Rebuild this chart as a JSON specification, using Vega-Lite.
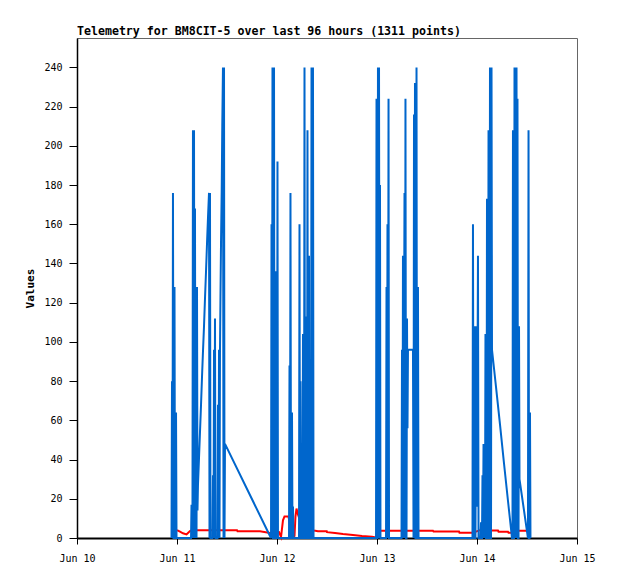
{
  "$schema": "https://vega.github.io/schema/vega-lite/v6.json",
  "width": 500,
  "height": 500,
  "autosize": {"type": "none"},
  "padding": {"left": 77, "top": 38, "right": 41, "bottom": 41},
  "background": "white",
  "title": {
    "text": "Telemetry for BM8CIT-5 over last 96 hours (1311 points)",
    "anchor": "start",
    "frame": "group",
    "font": "DejaVu Sans Mono",
    "fontSize": 11.6,
    "fontWeight": "bold",
    "color": "black",
    "offset": 0
  },
  "config": {
    "view": {"stroke": "#666666", "strokeWidth": 1},
    "axis": {
      "domainColor": "black",
      "tickColor": "black",
      "labelColor": "black",
      "labelFont": "DejaVu Sans Mono",
      "labelFontSize": 10,
      "titleFont": "DejaVu Sans Mono",
      "titleFontSize": 11,
      "titleFontWeight": "bold",
      "titleColor": "black",
      "grid": false,
      "zindex": 1
    },
    "axisX": {"domainWidth": 2, "tickSize": 6, "labelPadding": 9, "labelFlush": false, "labelOverlap": false},
    "axisY": {"domainWidth": 1.5, "tickSize": 8, "labelPadding": 7, "titlePadding": 8}
  },
  "datasets": {
    "red": [
      {"time": "2024-06-11T00:00", "value": 4},
      {"time": "2024-06-11T00:43", "value": 3.2},
      {"time": "2024-06-11T01:26", "value": 2.4},
      {"time": "2024-06-11T02:17", "value": 1.8},
      {"time": "2024-06-11T02:38", "value": 2.5},
      {"time": "2024-06-11T03:07", "value": 3.5},
      {"time": "2024-06-11T03:36", "value": 4},
      {"time": "2024-06-11T14:24", "value": 4},
      {"time": "2024-06-11T14:31", "value": 3.5},
      {"time": "2024-06-11T19:55", "value": 3.4},
      {"time": "2024-06-11T22:19", "value": 2.6},
      {"time": "2024-06-12T00:29", "value": 3},
      {"time": "2024-06-12T00:58", "value": 0.5},
      {"time": "2024-06-12T01:26", "value": 9},
      {"time": "2024-06-12T01:48", "value": 11},
      {"time": "2024-06-12T02:46", "value": 11},
      {"time": "2024-06-12T03:07", "value": 6},
      {"time": "2024-06-12T03:50", "value": 0.5},
      {"time": "2024-06-12T04:12", "value": 1},
      {"time": "2024-06-12T04:26", "value": 11},
      {"time": "2024-06-12T04:41", "value": 15},
      {"time": "2024-06-12T05:02", "value": 12},
      {"time": "2024-06-12T05:31", "value": 9},
      {"time": "2024-06-12T06:00", "value": 5},
      {"time": "2024-06-12T08:53", "value": 3.8},
      {"time": "2024-06-12T09:50", "value": 3.5},
      {"time": "2024-06-12T11:56", "value": 3.5},
      {"time": "2024-06-12T12:00", "value": 3},
      {"time": "2024-06-12T13:55", "value": 2.5},
      {"time": "2024-06-12T15:50", "value": 2},
      {"time": "2024-06-12T18:14", "value": 1.5},
      {"time": "2024-06-12T20:24", "value": 1},
      {"time": "2024-06-12T22:48", "value": 0.6},
      {"time": "2024-06-12T23:46", "value": 0.3},
      {"time": "2024-06-13T00:07", "value": 3.7},
      {"time": "2024-06-13T13:26", "value": 3.7},
      {"time": "2024-06-13T13:34", "value": 3.3},
      {"time": "2024-06-13T19:41", "value": 3.3},
      {"time": "2024-06-13T19:48", "value": 2.7},
      {"time": "2024-06-13T23:02", "value": 2.7},
      {"time": "2024-06-14T00:43", "value": 4},
      {"time": "2024-06-14T02:38", "value": 4},
      {"time": "2024-06-14T02:46", "value": 3.8},
      {"time": "2024-06-14T05:02", "value": 3.8},
      {"time": "2024-06-14T05:10", "value": 3.2},
      {"time": "2024-06-14T07:26", "value": 3.2},
      {"time": "2024-06-14T07:34", "value": 2.7},
      {"time": "2024-06-14T08:38", "value": 2.7},
      {"time": "2024-06-14T09:50", "value": 3.7},
      {"time": "2024-06-14T12:00", "value": 3.7}
    ],
    "blue": [
      {"time": "2024-06-10T22:41", "value": 0},
      {"time": "2024-06-10T22:48", "value": 80},
      {"time": "2024-06-10T22:55", "value": 0},
      {"time": "2024-06-10T23:02", "value": 176},
      {"time": "2024-06-10T23:10", "value": 0},
      {"time": "2024-06-10T23:17", "value": 0},
      {"time": "2024-06-10T23:24", "value": 128},
      {"time": "2024-06-10T23:31", "value": 0},
      {"time": "2024-06-10T23:38", "value": 0},
      {"time": "2024-06-10T23:46", "value": 64},
      {"time": "2024-06-10T23:53", "value": 0},
      {"time": "2024-06-11T03:22", "value": 0},
      {"time": "2024-06-11T03:29", "value": 17},
      {"time": "2024-06-11T03:36", "value": 0},
      {"time": "2024-06-11T03:43", "value": 17},
      {"time": "2024-06-11T03:50", "value": 208},
      {"time": "2024-06-11T03:58", "value": 0},
      {"time": "2024-06-11T04:05", "value": 208},
      {"time": "2024-06-11T04:12", "value": 0},
      {"time": "2024-06-11T04:19", "value": 168},
      {"time": "2024-06-11T04:26", "value": 0},
      {"time": "2024-06-11T04:34", "value": 128},
      {"time": "2024-06-11T04:41", "value": 0},
      {"time": "2024-06-11T04:48", "value": 128},
      {"time": "2024-06-11T04:55", "value": 14},
      {"time": "2024-06-11T05:02", "value": 27},
      {"time": "2024-06-11T05:17", "value": 41},
      {"time": "2024-06-11T05:31", "value": 54},
      {"time": "2024-06-11T05:46", "value": 68},
      {"time": "2024-06-11T06:00", "value": 82},
      {"time": "2024-06-11T06:14", "value": 95},
      {"time": "2024-06-11T06:29", "value": 108},
      {"time": "2024-06-11T06:43", "value": 122},
      {"time": "2024-06-11T06:58", "value": 136},
      {"time": "2024-06-11T07:12", "value": 150},
      {"time": "2024-06-11T07:26", "value": 163},
      {"time": "2024-06-11T07:41", "value": 176},
      {"time": "2024-06-11T07:48", "value": 0},
      {"time": "2024-06-11T07:55", "value": 176},
      {"time": "2024-06-11T08:02", "value": 0},
      {"time": "2024-06-11T08:31", "value": 0},
      {"time": "2024-06-11T08:38", "value": 32},
      {"time": "2024-06-11T08:46", "value": 0},
      {"time": "2024-06-11T08:53", "value": 96},
      {"time": "2024-06-11T09:00", "value": 0},
      {"time": "2024-06-11T09:07", "value": 112},
      {"time": "2024-06-11T09:14", "value": 0},
      {"time": "2024-06-11T09:43", "value": 0},
      {"time": "2024-06-11T09:50", "value": 68},
      {"time": "2024-06-11T09:58", "value": 0},
      {"time": "2024-06-11T10:05", "value": 96},
      {"time": "2024-06-11T10:12", "value": 0},
      {"time": "2024-06-11T10:19", "value": 96},
      {"time": "2024-06-11T10:26", "value": 123},
      {"time": "2024-06-11T10:34", "value": 151},
      {"time": "2024-06-11T10:44", "value": 178},
      {"time": "2024-06-11T10:52", "value": 210},
      {"time": "2024-06-11T11:02", "value": 240},
      {"time": "2024-06-11T11:10", "value": 0},
      {"time": "2024-06-11T11:17", "value": 240},
      {"time": "2024-06-11T11:24", "value": 0},
      {"time": "2024-06-11T11:31", "value": 48},
      {"time": "2024-06-11T22:19", "value": 1},
      {"time": "2024-06-11T22:34", "value": 0},
      {"time": "2024-06-11T22:41", "value": 160},
      {"time": "2024-06-11T22:48", "value": 0},
      {"time": "2024-06-11T22:55", "value": 240},
      {"time": "2024-06-11T23:02", "value": 0},
      {"time": "2024-06-11T23:10", "value": 0},
      {"time": "2024-06-11T23:17", "value": 240},
      {"time": "2024-06-11T23:24", "value": 0},
      {"time": "2024-06-11T23:38", "value": 0},
      {"time": "2024-06-11T23:46", "value": 136},
      {"time": "2024-06-11T23:53", "value": 0},
      {"time": "2024-06-12T00:00", "value": 0},
      {"time": "2024-06-12T00:07", "value": 192},
      {"time": "2024-06-12T00:14", "value": 0},
      {"time": "2024-06-12T02:53", "value": 0},
      {"time": "2024-06-12T03:00", "value": 88},
      {"time": "2024-06-12T03:07", "value": 0},
      {"time": "2024-06-12T03:14", "value": 176},
      {"time": "2024-06-12T03:22", "value": 0},
      {"time": "2024-06-12T03:29", "value": 0},
      {"time": "2024-06-12T03:36", "value": 64},
      {"time": "2024-06-12T03:43", "value": 0},
      {"time": "2024-06-12T03:50", "value": 16},
      {"time": "2024-06-12T03:58", "value": 0},
      {"time": "2024-06-12T05:17", "value": 0},
      {"time": "2024-06-12T05:24", "value": 160},
      {"time": "2024-06-12T05:31", "value": 0},
      {"time": "2024-06-12T05:38", "value": 80},
      {"time": "2024-06-12T05:46", "value": 0},
      {"time": "2024-06-12T06:07", "value": 0},
      {"time": "2024-06-12T06:14", "value": 104},
      {"time": "2024-06-12T06:22", "value": 0},
      {"time": "2024-06-12T06:29", "value": 0},
      {"time": "2024-06-12T06:36", "value": 240},
      {"time": "2024-06-12T06:43", "value": 0},
      {"time": "2024-06-12T06:50", "value": 0},
      {"time": "2024-06-12T06:58", "value": 113},
      {"time": "2024-06-12T07:05", "value": 0},
      {"time": "2024-06-12T07:12", "value": 0},
      {"time": "2024-06-12T07:19", "value": 208},
      {"time": "2024-06-12T07:26", "value": 0},
      {"time": "2024-06-12T07:34", "value": 0},
      {"time": "2024-06-12T07:41", "value": 144},
      {"time": "2024-06-12T07:48", "value": 0},
      {"time": "2024-06-12T08:10", "value": 0},
      {"time": "2024-06-12T08:17", "value": 240},
      {"time": "2024-06-12T08:24", "value": 0},
      {"time": "2024-06-12T08:31", "value": 0},
      {"time": "2024-06-12T08:38", "value": 240},
      {"time": "2024-06-12T08:46", "value": 0},
      {"time": "2024-06-12T23:46", "value": 0},
      {"time": "2024-06-12T23:53", "value": 224},
      {"time": "2024-06-13T00:00", "value": 0},
      {"time": "2024-06-13T00:07", "value": 0},
      {"time": "2024-06-13T00:14", "value": 240},
      {"time": "2024-06-13T00:22", "value": 0},
      {"time": "2024-06-13T00:29", "value": 240},
      {"time": "2024-06-13T00:36", "value": 60},
      {"time": "2024-06-13T00:43", "value": 180},
      {"time": "2024-06-13T00:50", "value": 0},
      {"time": "2024-06-13T02:10", "value": 0},
      {"time": "2024-06-13T02:17", "value": 128},
      {"time": "2024-06-13T02:24", "value": 0},
      {"time": "2024-06-13T02:31", "value": 160},
      {"time": "2024-06-13T02:38", "value": 0},
      {"time": "2024-06-13T02:46", "value": 224},
      {"time": "2024-06-13T02:53", "value": 0},
      {"time": "2024-06-13T05:53", "value": 0},
      {"time": "2024-06-13T06:00", "value": 96},
      {"time": "2024-06-13T06:07", "value": 0},
      {"time": "2024-06-13T06:14", "value": 144},
      {"time": "2024-06-13T06:22", "value": 0},
      {"time": "2024-06-13T06:29", "value": 88},
      {"time": "2024-06-13T06:36", "value": 176},
      {"time": "2024-06-13T06:43", "value": 0},
      {"time": "2024-06-13T06:50", "value": 224},
      {"time": "2024-06-13T06:58", "value": 0},
      {"time": "2024-06-13T07:05", "value": 0},
      {"time": "2024-06-13T07:12", "value": 112},
      {"time": "2024-06-13T07:19", "value": 56},
      {"time": "2024-06-13T07:26", "value": 96},
      {"time": "2024-06-13T08:38", "value": 96},
      {"time": "2024-06-13T08:46", "value": 0},
      {"time": "2024-06-13T08:53", "value": 216},
      {"time": "2024-06-13T09:00", "value": 0},
      {"time": "2024-06-13T09:07", "value": 232},
      {"time": "2024-06-13T09:14", "value": 0},
      {"time": "2024-06-13T09:22", "value": 0},
      {"time": "2024-06-13T09:29", "value": 240},
      {"time": "2024-06-13T09:36", "value": 0},
      {"time": "2024-06-13T09:43", "value": 0},
      {"time": "2024-06-13T09:50", "value": 128},
      {"time": "2024-06-13T09:58", "value": 0},
      {"time": "2024-06-13T22:55", "value": 0},
      {"time": "2024-06-13T23:02", "value": 160},
      {"time": "2024-06-13T23:10", "value": 0},
      {"time": "2024-06-13T23:17", "value": 0},
      {"time": "2024-06-13T23:24", "value": 108},
      {"time": "2024-06-13T23:31", "value": 0},
      {"time": "2024-06-13T23:38", "value": 0},
      {"time": "2024-06-13T23:46", "value": 108},
      {"time": "2024-06-14T00:00", "value": 16},
      {"time": "2024-06-14T00:14", "value": 144},
      {"time": "2024-06-14T00:22", "value": 0},
      {"time": "2024-06-14T00:50", "value": 0},
      {"time": "2024-06-14T00:58", "value": 8},
      {"time": "2024-06-14T01:05", "value": 0},
      {"time": "2024-06-14T01:12", "value": 0},
      {"time": "2024-06-14T01:19", "value": 32},
      {"time": "2024-06-14T01:26", "value": 0},
      {"time": "2024-06-14T01:34", "value": 48},
      {"time": "2024-06-14T01:41", "value": 0},
      {"time": "2024-06-14T01:48", "value": 35},
      {"time": "2024-06-14T01:55", "value": 0},
      {"time": "2024-06-14T02:02", "value": 104},
      {"time": "2024-06-14T02:10", "value": 0},
      {"time": "2024-06-14T02:17", "value": 0},
      {"time": "2024-06-14T02:24", "value": 173},
      {"time": "2024-06-14T02:31", "value": 0},
      {"time": "2024-06-14T02:38", "value": 0},
      {"time": "2024-06-14T02:46", "value": 208},
      {"time": "2024-06-14T02:53", "value": 0},
      {"time": "2024-06-14T03:00", "value": 0},
      {"time": "2024-06-14T03:07", "value": 240},
      {"time": "2024-06-14T03:14", "value": 0},
      {"time": "2024-06-14T03:22", "value": 0},
      {"time": "2024-06-14T03:29", "value": 240},
      {"time": "2024-06-14T03:36", "value": 96},
      {"time": "2024-06-14T04:34", "value": 77},
      {"time": "2024-06-14T05:31", "value": 58},
      {"time": "2024-06-14T06:29", "value": 38},
      {"time": "2024-06-14T07:26", "value": 19},
      {"time": "2024-06-14T08:24", "value": 0},
      {"time": "2024-06-14T08:31", "value": 0},
      {"time": "2024-06-14T08:38", "value": 208},
      {"time": "2024-06-14T08:46", "value": 0},
      {"time": "2024-06-14T08:53", "value": 0},
      {"time": "2024-06-14T09:00", "value": 240},
      {"time": "2024-06-14T09:07", "value": 0},
      {"time": "2024-06-14T09:14", "value": 240},
      {"time": "2024-06-14T09:22", "value": 0},
      {"time": "2024-06-14T09:29", "value": 240},
      {"time": "2024-06-14T09:36", "value": 0},
      {"time": "2024-06-14T09:43", "value": 224},
      {"time": "2024-06-14T09:50", "value": 0},
      {"time": "2024-06-14T09:58", "value": 0},
      {"time": "2024-06-14T10:05", "value": 108},
      {"time": "2024-06-14T10:12", "value": 30},
      {"time": "2024-06-14T12:14", "value": 0},
      {"time": "2024-06-14T12:22", "value": 208},
      {"time": "2024-06-14T12:29", "value": 0},
      {"time": "2024-06-14T12:36", "value": 0},
      {"time": "2024-06-14T12:43", "value": 64},
      {"time": "2024-06-14T12:50", "value": 0}
    ]
  },
  "encoding": {
    "x": {
      "field": "time",
      "type": "temporal",
      "scale": {
        "domain": [
          {"year": 2024, "month": 6, "date": 10},
          {"year": 2024, "month": 6, "date": 15}
        ]
      },
      "axis": {
        "title": null,
        "format": "%b %d",
        "values": [
          {"year": 2024, "month": 6, "date": 10},
          {"year": 2024, "month": 6, "date": 11},
          {"year": 2024, "month": 6, "date": 12},
          {"year": 2024, "month": 6, "date": 13},
          {"year": 2024, "month": 6, "date": 14},
          {"year": 2024, "month": 6, "date": 15}
        ]
      }
    },
    "y": {
      "field": "value",
      "type": "quantitative",
      "scale": {"domain": [0, 255], "nice": false},
      "axis": {
        "title": "Values",
        "values": [0, 20, 40, 60, 80, 100, 120, 140, 160, 180, 200, 220, 240]
      }
    }
  },
  "layer": [
    {
      "data": {"name": "red"},
      "mark": {"type": "line", "color": "#ff0000", "strokeWidth": 2}
    },
    {
      "data": {"name": "blue"},
      "mark": {"type": "line", "color": "#0066cc", "strokeWidth": 2}
    }
  ]
}
